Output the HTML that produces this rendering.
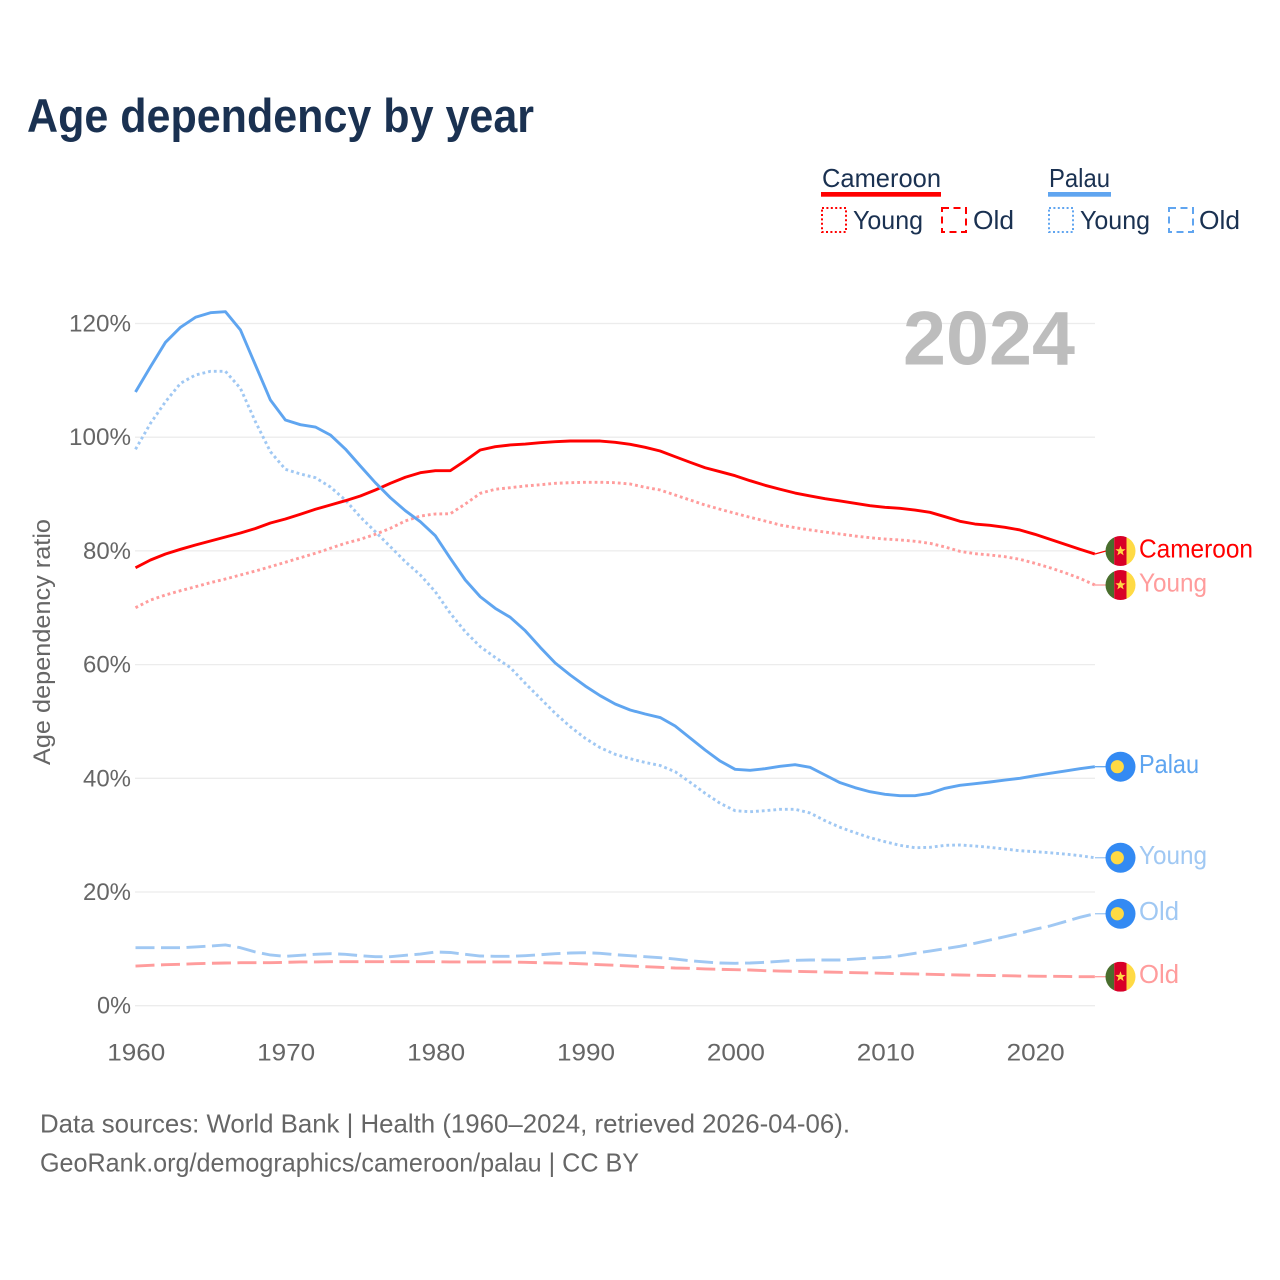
<!DOCTYPE html>
<html lang="en">
<head>
<meta charset="utf-8">
<title>Age dependency by year</title>
<style>
html,body{margin:0;padding:0;background:#fff;}
svg{display:block;}
text{font-family:"Liberation Sans",sans-serif;}
</style>
</head>
<body>
<svg id="chart" xmlns="http://www.w3.org/2000/svg" width="1280" height="1280" viewBox="0 0 1280 1280">
  <rect x="0" y="0" width="1280" height="1280" fill="#ffffff"/>
  <text x="27" y="132" font-size="47" font-weight="700" fill="#1a3151" textLength="507" lengthAdjust="spacingAndGlyphs">Age dependency by year</text>

  <g font-size="26" fill="#1a3151">
    <text x="822" y="187" textLength="119" lengthAdjust="spacingAndGlyphs">Cameroon</text>
    <rect x="821" y="192" width="120" height="4.7" fill="#ff0000"/>
    <rect x="822" y="208" width="24" height="24" fill="none" stroke="#ff0000" stroke-width="2" stroke-dasharray="2 2.4"/>
    <text x="853" y="229" textLength="70" lengthAdjust="spacingAndGlyphs">Young</text>
    <rect x="942" y="208" width="24" height="24" fill="none" stroke="#ff0000" stroke-width="2" stroke-dasharray="7 4.5"/>
    <text x="973" y="229" textLength="41" lengthAdjust="spacingAndGlyphs">Old</text>

    <text x="1049" y="187" textLength="61" lengthAdjust="spacingAndGlyphs">Palau</text>
    <rect x="1048" y="192" width="63" height="4.7" fill="#60a5f0"/>
    <rect x="1049" y="208" width="24" height="24" fill="none" stroke="#60a5f0" stroke-width="2" stroke-dasharray="2 2.4"/>
    <text x="1080" y="229" textLength="70" lengthAdjust="spacingAndGlyphs">Young</text>
    <rect x="1169" y="208" width="24" height="24" fill="none" stroke="#60a5f0" stroke-width="2" stroke-dasharray="7 4.5"/>
    <text x="1199" y="229" textLength="41" lengthAdjust="spacingAndGlyphs">Old</text>
  </g>

  <g id="grid"></g>
  <text x="903" y="364.5" font-size="76" font-weight="700" fill="#bdbdbd" textLength="172" lengthAdjust="spacingAndGlyphs">2024</text>
  <g id="yTicks"></g>
  <g id="xTicks"></g>
  <text transform="translate(50,765) rotate(-90)" font-size="24" fill="#666666" textLength="246" lengthAdjust="spacingAndGlyphs">Age dependency ratio</text>
  <g id="lines"></g>
  <g id="ends"></g>

  <text x="40" y="1132.5" font-size="26" fill="#666666" textLength="810" lengthAdjust="spacingAndGlyphs">Data sources: World Bank | Health (1960–2024, retrieved 2026-04-06).</text>
  <text x="40" y="1171.5" font-size="26" fill="#666666" textLength="599" lengthAdjust="spacingAndGlyphs">GeoRank.org/demographics/cameroon/palau | CC BY</text>
</svg>
<script>
const years = [
1960,1961,1962,1963,1964,1965,1966,1967,1968,1969,
1970,1971,1972,1973,1974,1975,1976,1977,1978,1979,
1980,1981,1982,1983,1984,1985,1986,1987,1988,1989,
1990,1991,1992,1993,1994,1995,1996,1997,1998,1999,
2000,2001,2002,2003,2004,2005,2006,2007,2008,2009,
2010,2011,2012,2013,2014,2015,2016,2017,2018,2019,
2020,2021,2022,2023,2024];
const cameroonTotal = [
77.04,78.40,79.46,80.28,81.04,81.74,82.44,83.15,83.94,84.91,
85.61,86.44,87.32,88.07,88.83,89.66,90.71,91.89,92.95,93.75,
94.11,94.11,95.87,97.75,98.33,98.63,98.80,99.03,99.21,99.33,
99.33,99.33,99.10,98.75,98.22,97.57,96.57,95.58,94.63,93.93,
93.23,92.35,91.54,90.84,90.18,89.66,89.18,88.78,88.37,87.95,
87.67,87.49,87.19,86.79,86.02,85.21,84.73,84.50,84.15,83.68,
82.92,82.04,81.16,80.28,79.46];
const cameroonYoung = [
70.01,71.36,72.24,73.00,73.70,74.41,75.06,75.76,76.46,77.22,
78.00,78.80,79.58,80.46,81.34,82.04,82.92,83.97,85.26,86.14,
86.49,86.54,88.25,90.13,90.84,91.12,91.42,91.64,91.89,92.00,
92.07,92.07,92.00,91.77,91.19,90.71,89.83,88.95,88.07,87.32,
86.61,85.91,85.26,84.56,84.08,83.68,83.32,82.97,82.62,82.32,
82.09,81.92,81.69,81.34,80.69,79.93,79.51,79.28,78.98,78.52,
77.82,77.04,76.16,75.18,74.00];
const cameroonOld = [
6.98,7.11,7.21,7.28,7.39,7.46,7.51,7.56,7.56,7.56,
7.63,7.69,7.69,7.74,7.74,7.74,7.74,7.74,7.74,7.74,
7.74,7.69,7.69,7.69,7.69,7.69,7.63,7.56,7.51,7.46,
7.34,7.21,7.11,6.98,6.86,6.75,6.63,6.58,6.46,6.40,
6.33,6.28,6.16,6.10,6.05,5.98,5.93,5.87,5.80,5.75,
5.70,5.63,5.58,5.52,5.45,5.40,5.35,5.31,5.28,5.22,
5.19,5.17,5.14,5.10,5.10];
const palauTotal = [
107.95,112.40,116.69,119.33,121.09,121.90,122.07,118.86,112.70,106.54,
103.02,102.20,101.79,100.39,97.92,94.93,92.00,89.36,87.07,85.14,
82.67,78.70,74.88,71.94,69.90,68.32,65.96,63.04,60.28,58.17,
56.24,54.53,53.07,52.01,51.31,50.69,49.20,47.09,44.98,43.04,
41.58,41.41,41.69,42.11,42.39,41.93,40.58,39.23,38.35,37.64,
37.19,36.94,36.94,37.36,38.24,38.77,39.05,39.35,39.70,40.00,
40.46,40.88,41.28,41.69,42.04];
const palauYoung = [
97.87,102.44,106.24,109.48,110.94,111.59,111.59,108.60,102.73,97.45,
94.35,93.53,92.88,91.24,88.95,85.96,83.38,80.74,78.10,75.76,
72.82,69.02,65.79,63.15,61.25,59.49,56.71,54.07,51.43,49.08,
47.04,45.38,44.22,43.45,42.78,42.25,41.16,39.30,37.36,35.60,
34.30,34.12,34.30,34.55,34.55,33.90,32.54,31.38,30.43,29.55,
28.85,28.21,27.79,27.86,28.21,28.27,28.09,27.86,27.56,27.26,
27.09,26.91,26.68,26.39,26.03];
const palauOld = [
10.20,10.20,10.20,10.20,10.33,10.50,10.68,10.20,9.45,8.92,
8.69,8.87,9.04,9.15,9.04,8.80,8.62,8.62,8.87,9.09,
9.45,9.36,9.04,8.74,8.69,8.69,8.80,8.97,9.15,9.27,
9.32,9.22,8.97,8.80,8.62,8.44,8.21,7.92,7.69,7.51,
7.46,7.51,7.63,7.81,7.99,8.04,8.04,8.04,8.21,8.39,
8.51,8.80,9.22,9.62,10.03,10.45,10.98,11.56,12.14,12.74,
13.44,14.02,14.78,15.55,16.18];
const yTickValues = [0,20,40,60,80,100,120];
const yTickLabels = ["0%","20%","40%","60%","80%","100%","120%"];
const xTickValues = [1960,1970,1980,1990,2000,2010,2020];
const xTickLabels = ["1960","1970","1980","1990","2000","2010","2020"];

const NS = "http://www.w3.org/2000/svg";
const X0 = 135.5, PXYEAR = 14.99, Y0 = 1005.7, PXPCT = 5.685;
function xScale(year){ return X0 + (year - 1960) * PXYEAR; }
function yScale(pct){ return Y0 - pct * PXPCT; }
function make(tag, attrs, parent){
  const n = document.createElementNS(NS, tag);
  for (const k in attrs) n.setAttribute(k, attrs[k]);
  parent.appendChild(n);
  return n;
}

const gridG = document.getElementById("grid");
const yG = document.getElementById("yTicks");
const xG = document.getElementById("xTicks");
yTickValues.forEach(function(v, i){
  const line = make("line", {x1:135, x2:1095, y1:yScale(v), y2:yScale(v), stroke:"#ececec", "stroke-width":1.3}, gridG);
  
  
  const label = yTickLabels[i];
  const t = make("text", {x:131, y:yScale(v)+8, "text-anchor":"end", "font-size":24, fill:"#666666",
    textLength:(label.length-1)*14+20, lengthAdjust:"spacingAndGlyphs"}, yG);
  t.textContent = label;
  
  
});
xTickValues.forEach(function(v, i){
  const t = make("text", {x:xScale(v)+0.8, y:1060.5, "text-anchor":"middle", "font-size":24, fill:"#666666",
    textLength:58, lengthAdjust:"spacingAndGlyphs"}, xG);
  t.textContent = xTickLabels[i];
  
  
});

const seriesList = [
  {id:"cameroon-old",   values:cameroonOld,   color:"#ff9c9c", dash:"19 6.5",  label:"Old",      country:"cameroon", labelColor:"#ff9c9c", nudge:0},
  {id:"palau-old",      values:palauOld,      color:"#a0c8f3", dash:"19 6.5",  label:"Old",      country:"palau",    labelColor:"#a0c8f3", nudge:0},
  {id:"cameroon-young", values:cameroonYoung, color:"#ff9c9c", dash:"2.8 3",   label:"Young",    country:"cameroon", labelColor:"#ff9c9c", nudge:0},
  {id:"palau-young",    values:palauYoung,    color:"#a0c8f3", dash:"2.8 3",   label:"Young",    country:"palau",    labelColor:"#a0c8f3", nudge:0},
  {id:"cameroon-total", values:cameroonTotal, color:"#ff0000", dash:"",        label:"Cameroon", country:"cameroon", labelColor:"#ff0000", nudge:-3},
  {id:"palau-total",    values:palauTotal,    color:"#5fa5f0", dash:"",        label:"Palau",    country:"palau",    labelColor:"#5fa5f0", nudge:0}
];
const labelWidths = {Old:40, Young:68, Palau:60, Cameroon:114};

const linesG = document.getElementById("lines");
const endsG = document.getElementById("ends");

function drawFlag(country, cy, parent, key){
  const g = make("g", {}, parent);
  
  
  const cx = 1120.5, r = 15;
  const clipId = "clip-" + key;
  const cp = make("clipPath", {id:clipId}, g);
  make("circle", {cx:cx, cy:cy, r:r}, cp);
  if (country === "palau") {
    make("circle", {cx:cx, cy:cy, r:r, fill:"#338af3"}, g);
    make("circle", {cx:cx-3.2, cy:cy, r:6.6, fill:"#ffda44"}, g);
  } else {
    const inner = make("g", {"clip-path":"url(#"+clipId+")"}, g);
    make("rect", {x:cx-15, y:cy-15, width:8.7, height:30, fill:"#496e2d"}, inner);
    make("rect", {x:cx-6.3, y:cy-15, width:12.3, height:30, fill:"#d80027"}, inner);
    make("rect", {x:cx+6, y:cy-15, width:9.5, height:30, fill:"#ffda44"}, inner);
    const pts = [];
    for (let i = 0; i < 10; i++) {
      const rad = i % 2 ? 2.2 : 5.4;
      const a = -Math.PI/2 + i*Math.PI/5;
      pts.push((cx + rad*Math.cos(a)).toFixed(2) + "," + (cy + rad*Math.sin(a)).toFixed(2));
    }
    make("polygon", {points:pts.join(" "), fill:"#ffda44"}, inner);
  }
}

seriesList.forEach(function(s){
  const d = s.values.map(function(v, i){
    return (i ? "L" : "M") + xScale(years[i]).toFixed(2) + " " + yScale(v).toFixed(2);
  }).join(" ");
  const attrs = {d:d, fill:"none", stroke:s.color, "stroke-width":2.9, "stroke-linejoin":"round"};
  if (s.dash) attrs["stroke-dasharray"] = s.dash;
  const path = make("path", attrs, linesG);
  
  

  const lastVal = s.values[s.values.length - 1];
  const lastY = yScale(lastVal);
  const cy = lastY + s.nudge;
  const conn = make("line", {x1:1095, y1:lastY, x2:1106, y2:cy, stroke:s.color, "stroke-width":1.3}, endsG);
  
  

  drawFlag(s.country, cy, endsG, s.id);

  const t = make("text", {x:1139, y:cy+6.5, "font-size":26, fill:s.labelColor,
    textLength:labelWidths[s.label], lengthAdjust:"spacingAndGlyphs"}, endsG);
  t.textContent = s.label;
  
  
});
</script>
</body>
</html>
